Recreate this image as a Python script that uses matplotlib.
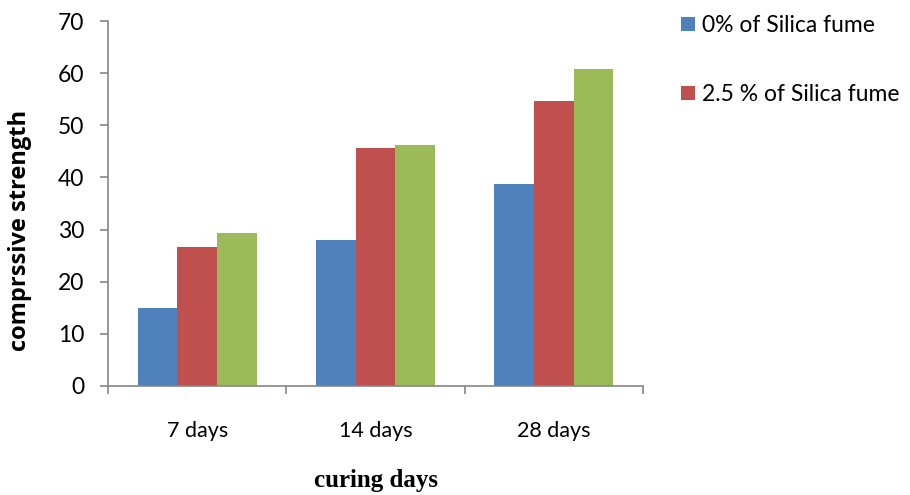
import numpy as np
import matplotlib.pyplot as plt

# data
categories = ['7 days', '14 days', '28 days']
silica_0 = [15.0, 28.0, 38.8]
silica_2_5 = [26.6, 45.6, 54.7]
silica_5 = [29.3, 46.2, 60.8]
labels = ['0% of Silica fume', '2.5 % of Silica fume']
yticks = [0, 10, 20, 30, 40, 50, 60, 70]

plt.rcParams['font.family'] = ['Lato', 'DejaVu Sans']

fig = plt.figure(figsize=(9.1, 4.95), dpi=100)
ax = fig.add_axes([108 / 910, 109 / 495, 535 / 910, 365 / 495])

x = np.arange(len(categories))
w = 1 / 4.5
ax.bar(x - w, silica_0, w, color='#4F81BD', label=labels[0])
ax.bar(x, silica_2_5, w, color='#C0504D', label=labels[1])
ax.bar(x + w, silica_5, w, color='#9BBB59')

ax.set_xlim(-0.5, 2.5)
ax.set_ylim(0, 70)
ax.set_yticks(yticks)
ax.set_yticklabels([str(v) for v in yticks], fontsize=16.5)

# category labels centred, ticks on the category boundaries
ax.set_xticks(x)
ax.set_xticklabels(categories, fontsize=15.5)
ax.tick_params(axis='x', which='major', length=0, pad=25)
ax.set_xticks([-0.5, 0.5, 1.5, 2.5], minor=True)
ax.tick_params(axis='x', which='minor', length=6, width=1.2, color='#868686', direction='out')
ax.tick_params(axis='y', length=6, width=1.2, color='#868686', direction='out', pad=11)

for side in ['top', 'right']:
    ax.spines[side].set_visible(False)
for side in ['left', 'bottom']:
    ax.spines[side].set_color('#868686')
    ax.spines[side].set_linewidth(1.2)

ax.set_xlabel('curing days', fontsize=18, fontweight='bold', family='Liberation Serif', labelpad=20)
ax.set_ylabel('comprssive strength', fontsize=17, fontweight='bold', family='Open Sans')
ax.yaxis.set_label_coords(-0.142, 0.427)

ax.legend(loc='upper left', bbox_to_anchor=(672 / 910, 1 - 6 / 495), bbox_transform=fig.transFigure,
          frameon=False, fontsize=16.5, labelspacing=2.1, handlelength=0.6, handleheight=0.6,
          handletextpad=0.3, borderaxespad=0)

plt.savefig('out.png', dpi=100)
